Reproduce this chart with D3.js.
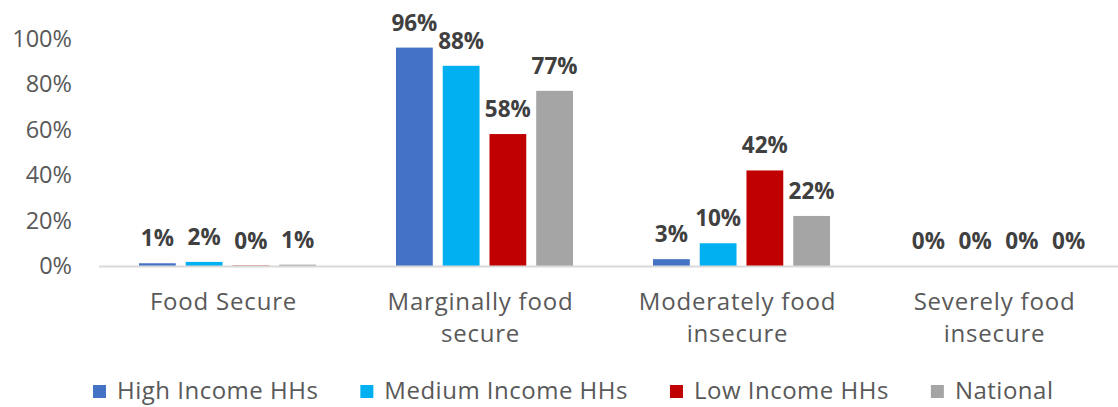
<!DOCTYPE html>
<html>
<head>
<meta charset="utf-8">
<script src="https://cdn.jsdelivr.net/npm/d3@7"></script>
<style>
  html, body { margin: 0; padding: 0; background: #fff; }
  svg { display: block; font-family: "Open Sans", sans-serif; }
</style>
</head>
<body>
<svg id="chart" width="1118" height="407"></svg>
<script>
const categories = [["Food Secure"], ["Marginally food", "secure"], ["Moderately food", "insecure"], ["Severely food", "insecure"]];
const seriesNames = ["High Income HHs", "Medium Income HHs", "Low Income HHs", "National"];
const highIncome   = [0.012, 0.96, 0.03, 0.0];
const mediumIncome = [0.018, 0.88, 0.10, 0.0];
const lowIncome    = [0.002, 0.58, 0.42, 0.0];
const national     = [0.006, 0.77, 0.22, 0.0];
const seriesColors = ["#4472C4", "#00B0F0", "#C00000", "#A5A5A5"];
const yTicks = [0, 0.2, 0.4, 0.6, 0.8, 1.0];

const seriesValues = [highIncome, mediumIncome, lowIncome, national];
const catKeys = categories.map(c => c.join(" "));

const svg = d3.select("#chart");

const x0 = d3.scaleBand().domain(catKeys).range([99, 1127]).padding(0);
const x1 = d3.scaleBand().domain(seriesNames).range([40, x0.bandwidth() - 40]).paddingInner(0.213);
const y = d3.scaleLinear().domain([0, 1]).range([266, 38.5]);

// y axis labels
const yAxis = d3.axisLeft(y).tickValues(yTicks).tickFormat(d3.format(".0%")).tickSize(0).tickPadding(0);
const yg = svg.append("g").attr("transform", "translate(72,0)").call(yAxis);
yg.select(".domain").remove();
yg.selectAll("text")
  .attr("font-family", "Open Sans")
  .attr("font-size", "23.5px")
  .attr("fill", "#595959")
  .attr("dy", "0.32em");

// bars
const groups = svg.append("g").selectAll("g")
  .data(catKeys)
  .join("g")
  .attr("transform", d => `translate(${x0(d)},0)`);

groups.selectAll("rect")
  .data((d, i) => seriesNames.map((s, j) => ({ s, v: seriesValues[j][i], c: seriesColors[j] })))
  .join("rect")
  .attr("x", d => x1(d.s))
  .attr("width", x1.bandwidth())
  .attr("y", d => y(d.v))
  .attr("height", d => y(0) - y(d.v))
  .attr("fill", d => d.c);

// baseline
svg.append("line")
  .attr("x1", x0.range()[0]).attr("x2", 1118)
  .attr("y1", y(0) + 0.5).attr("y2", y(0) + 0.5)
  .attr("stroke", "#D9D9D9").attr("stroke-width", 2);

// data labels
groups.selectAll("text.lbl")
  .data((d, i) => seriesNames.map((s, j) => ({ s, v: seriesValues[j][i] })))
  .join("text")
  .attr("class", "lbl")
  .attr("x", d => x1(d.s) + x1.bandwidth() / 2)
  .attr("y", d => y(d.v) - 17)
  .attr("text-anchor", "middle")
  .attr("font-size", "22.5px")
  .attr("font-weight", "bold")
  .attr("fill", "#404040")
  .text(d => d3.format(".0%")(d.v));

// category labels
categories.forEach((lines, i) => {
  const cx = x0(catKeys[i]) + x0.bandwidth() / 2 - 4;
  const t = svg.append("text")
    .attr("x", cx)
    .attr("y", 310)
    .attr("text-anchor", "middle")
    .attr("font-size", "24px")
    .attr("letter-spacing", "0.8px")
    .attr("fill", "#595959");
  lines.forEach((ln, k) => {
    t.append("tspan")
      .attr("x", cx)
      .attr("dy", k === 0 ? 0 : 32)
      .text(ln);
  });
});

// legend
const legend = svg.append("g");
let lx = 93;
seriesNames.forEach((s, j) => {
  legend.append("rect")
    .attr("x", lx).attr("y", 385)
    .attr("width", 13).attr("height", 13)
    .attr("fill", seriesColors[j]);
  const t = legend.append("text")
    .attr("x", lx + 24).attr("y", 399)
    .attr("font-size", "24px")
    .attr("letter-spacing", "0.5px")
    .attr("fill", "#595959")
    .text(s);
  lx = lx + 24 + t.node().getComputedTextLength() + 42;
});
</script>
</body>
</html>
